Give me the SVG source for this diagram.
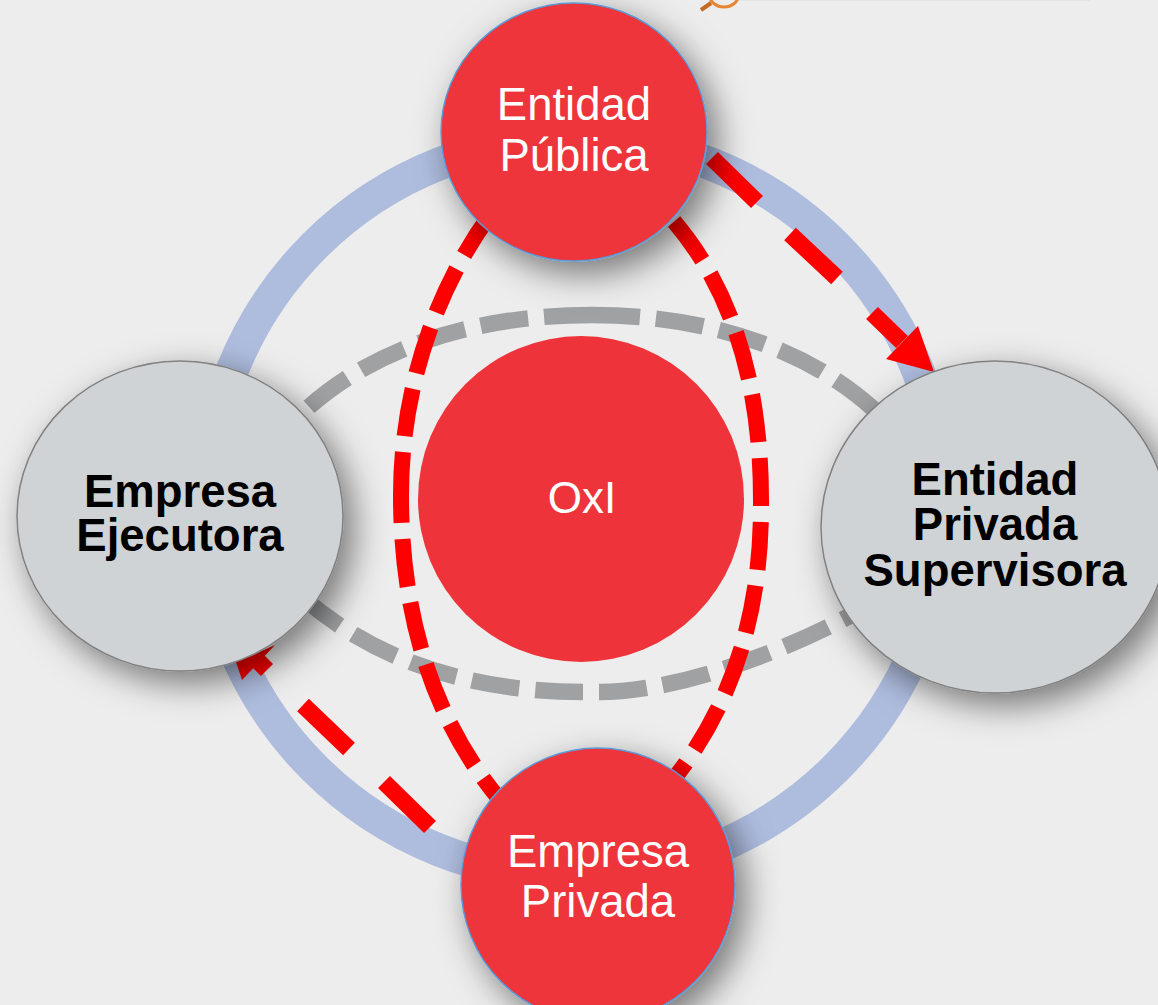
<svg xmlns="http://www.w3.org/2000/svg" width="1158" height="1005" viewBox="0 0 1158 1005">
<defs>
<filter id="sh" x="-40%" y="-40%" width="190%" height="190%"><feDropShadow dx="10" dy="12" stdDeviation="17" flood-color="#000" flood-opacity="0.5"/></filter>
</defs>
<style>
text{font-family:"Liberation Sans",Arial,sans-serif;text-anchor:middle}
.w{fill:#fff;font-size:45.5px}
.o{fill:#fff;font-size:44px}
.b{fill:#000;font-size:45.5px;font-weight:bold}
.rd{fill:#ee343a;stroke:#5b9bd5;stroke-width:1.5}
.gy{fill:#d0d3d6;stroke:#808080;stroke-width:1.5}
.gl{fill:none;stroke:#a0a1a3;stroke-width:16.5;stroke-dasharray:48 16}
.re{fill:none;stroke:#f00;stroke-width:16;stroke-dasharray:48 16}
.ar{stroke:#f00;stroke-width:17;fill:none}
</style>
<rect width="1158" height="1005" fill="#ededed"/>
<rect x="738" y="0" width="352" height="1" fill="#e4e4e4"/>
<g id="icon" fill="none" stroke="#e8852f" stroke-width="3"><ellipse cx="724" cy="-4" rx="14" ry="11"/><path d="M711,3L701,10" stroke-width="4" stroke="#c46a22"/></g>
<g id="connectors">
<circle cx="575" cy="507" r="369" fill="none" stroke="#aebcde" stroke-width="33"/>
<path class="gl" d="M592,315C700,315 810,345 885,420"/>
<path class="gl" d="M592,315C480,315 370,345 295,420"/>
<path class="gl" d="M599,692C680,692 790,650 870,605"/>
<path class="gl" d="M583,692C500,692 390,675 300,595"/>
<path class="re" stroke-dashoffset="5" d="M401,495C401,395 432,295 490,215"/>
<path class="re" stroke-dashoffset="20" d="M401,495C401,600 425,710 500,800"/>
<path class="re" d="M761,506L761,500C761,400 740,290 662,208"/>
<path class="re" stroke-dashoffset="48" d="M761,506C761,600 740,700 665,790"/>
<path class="ar" d="M712,158L757,202M790,234L837,278M872,313L902,342"/>
<path fill="#f00" d="M934,372L918,326L886,359Z"/>
<path class="ar" d="M430,827L384,782M349,749L303,705M267,670L256,659"/>
<path fill="#f00" d="M236,662L242,680L275,645Z"/>
</g>
<g id="oxi"><circle cx="581" cy="499" r="163" fill="#ee343a"/><text class="o" x="582" y="513">OxI</text></g>
<g id="publica"><ellipse class="rd" cx="574" cy="132" rx="133" ry="129" filter="url(#sh)"/><text class="w" x="574" y="120">Entidad</text><text class="w" x="574" y="171">Pública</text></g>
<g id="ejecutora"><ellipse class="gy" cx="180" cy="516" rx="163" ry="155" filter="url(#sh)"/><text class="b" x="180" y="507">Empresa</text><text class="b" x="180" y="551">Ejecutora</text></g>
<g id="supervisora"><ellipse class="gy" cx="995" cy="527" rx="174" ry="166" filter="url(#sh)"/><text class="b" x="995" y="495">Entidad</text><text class="b" x="995" y="540">Privada</text><text class="b" x="995" y="586">Supervisora</text></g>
<g id="privada"><circle class="rd" cx="598" cy="885" r="137" filter="url(#sh)"/><text class="w" x="598" y="867">Empresa</text><text class="w" x="598" y="917">Privada</text></g>
</svg>
